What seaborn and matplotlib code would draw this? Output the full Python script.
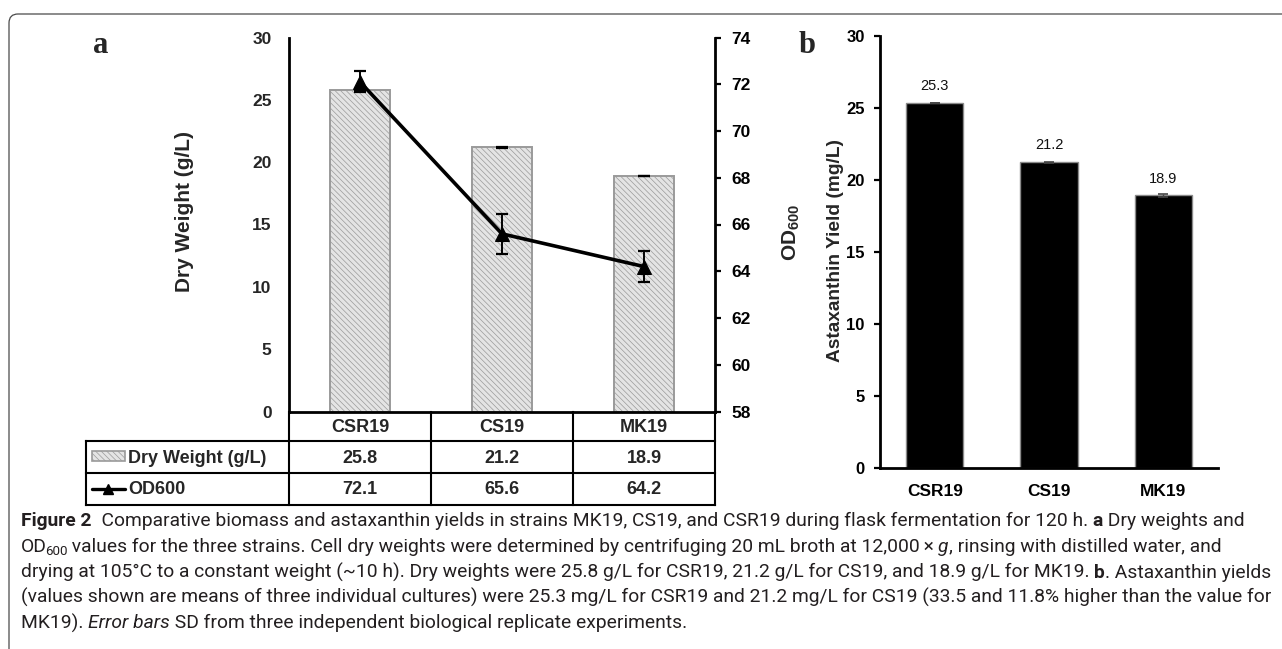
import numpy as np
import pandas as pd
import matplotlib
matplotlib.use("Agg")
import matplotlib.pyplot as plt
import seaborn as sns
from matplotlib import font_manager
from matplotlib.patches import Rectangle, FancyBboxPatch
from matplotlib.lines import Line2D
from matplotlib.transforms import IdentityTransform

# ---------------- data ----------------
strains = ["CSR19", "CS19", "MK19"]
dry_weight = [25.8, 21.2, 18.9]
dry_weight_sd = [0.05, 0.03, 0.03]
od600 = [72.1, 65.6, 64.2]
od600_sd = [0.45, 0.85, 0.65]
astaxanthin = [25.3, 21.2, 18.9]
astaxanthin_sd = [0.02, 0.03, 0.1]
dry_ticks = [0, 5, 10, 15, 20, 25, 30]
od_ticks = [58, 60, 62, 64, 66, 68, 70, 72, 74]
table_rows = ["Dry Weight (g/L)", "OD600"]

# (text, weight, style, size scale, vertical offset px, kern px before)
caption_lines = [
    [("Figure 2", "bold", "normal", 1.0, 0, 0), ("  Comparative biomass and astaxanthin yields in strains MK19, CS19, and CSR19 during flask fermentation for 120 h. ", "normal", "normal", 1.0, 0, 0),
     ("a", "bold", "normal", 1.0, 0, 0), (" Dry weights and", "normal", "normal", 1.0, 0, 0)],
    [("OD", "normal", "normal", 1.0, 0, 0), ("600", "normal", "normal", 0.7, 3, -2),
     (" values for the three strains. Cell dry weights were determined by centrifuging 20 mL broth at 12,000\u2009\u00d7\u2009", "normal", "normal", 1.0, 0, 0),
     ("g", "normal", "italic", 1.0, 0, 0), (", rinsing with distilled water, and", "normal", "normal", 1.0, 0, 0)],
    [("drying at 105\u00b0C to a constant weight (~10 h). Dry weights were 25.8 g/L for CSR19, 21.2 g/L for CS19, and 18.9 g/L for MK19. ", "normal", "normal", 1.0, 0, 0),
     ("b", "bold", "normal", 1.0, 0, 0), (". Astaxanthin yields", "normal", "normal", 1.0, 0, 0)],
    [("(values shown are means of three individual cultures) were 25.3 mg/L for CSR19 and 21.2 mg/L for CS19 (33.5 and 11.8% higher than the value for", "normal", "normal", 1.0, 0, 0)],
    [("MK19). ", "normal", "normal", 1.0, 0, 0), ("Error bars", "normal", "italic", 1.0, 0, 0),
     (" SD from three independent biological replicate experiments.", "normal", "normal", 1.0, 0, 0)],
]

# ---------------- style ----------------
sns.set_theme(style="white")
plt.rcParams["font.family"] = ["Liberation Sans", "DejaVu Sans"]
plt.rcParams["hatch.linewidth"] = 0.5
plt.rcParams["mathtext.fontset"] = "custom"
plt.rcParams["mathtext.bf"] = "Liberation Sans:bold"
plt.rcParams["mathtext.rm"] = "Liberation Sans"


def has_font(name):
    try:
        font_manager.findfont(name, fallback_to_default=False)
        return True
    except Exception:
        return False


cap_family = "Liberation Sans Narrow" if has_font("Liberation Sans Narrow") else "Roboto"
cap_color = "#231f20"

W, H = 1282, 649
DPI = 100
fig = plt.figure(figsize=(W / DPI, H / DPI), dpi=DPI)
fig.patch.set_facecolor("white")


def fx(px):
    return px / W


def fy(py):
    return 1 - py / H


TICK_FS = 12.5
BAR_GRAY_FACE = "#e4e4e4"
BAR_GRAY_EDGE = "#9a9a9a"
HATCH = "\\\\\\\\\\\\"

# ---------------- panel a ----------------
a_left, a_right, a_top, a_bot = 289, 715, 37.5, 411.5
ax_a = fig.add_axes([fx(a_left), fy(a_bot), (a_right - a_left) / W, (a_bot - a_top) / H])
df_a = pd.DataFrame({"strain": strains, "dry": dry_weight})
sns.barplot(data=df_a, x="strain", y="dry", ax=ax_a, width=0.42, color=BAR_GRAY_FACE,
            saturation=1, edgecolor=BAR_GRAY_EDGE, linewidth=1.4, hatch=HATCH, errorbar=None)
xpos = np.arange(len(strains))
ax_a.errorbar(xpos, dry_weight, yerr=dry_weight_sd, fmt="none", ecolor="black",
              elinewidth=1.2, capsize=4, capthick=1.6, zorder=3)
ax_a.set_ylim(dry_ticks[0], dry_ticks[-1])
ax_a.set_yticks(dry_ticks)
ax_a.set_xlim(-0.5, len(strains) - 0.5)
ax_a.set_xlabel("")
ax_a.set_ylabel("")
ax_a.set_xticks([])
ax_a.tick_params(axis="y", length=0, pad=12.5, labelsize=TICK_FS)
for lab in ax_a.get_yticklabels():
    lab.set_fontweight("bold")
for s in ["top", "right"]:
    ax_a.spines[s].set_visible(False)
for s in ["left", "bottom"]:
    ax_a.spines[s].set_color("black")
    ax_a.spines[s].set_linewidth(2.0)
ax_a.patch.set_alpha(0)

ax_t = ax_a.twinx()
sns.lineplot(x=xpos, y=od600, ax=ax_t, color="black", linewidth=2.6, marker="^",
             markersize=9.5, markeredgecolor="black", zorder=4)
ax_t.errorbar(xpos, od600, yerr=od600_sd, fmt="none", ecolor="black", elinewidth=1.4,
              capsize=4.5, capthick=1.6, zorder=5)
ax_t.set_ylim(od_ticks[0], od_ticks[-1])
ax_t.set_yticks(od_ticks)
ax_t.set_xlim(-0.5, len(strains) - 0.5)
ax_t.tick_params(axis="y", right=True, direction="out", length=4, width=1.6, pad=8,
                 labelsize=TICK_FS, colors="black")
for lab in ax_t.get_yticklabels():
    lab.set_fontweight("bold")
for s in ["top", "left", "bottom"]:
    ax_t.spines[s].set_visible(False)
ax_t.spines["right"].set_color("black")
ax_t.spines["right"].set_linewidth(2.0)
ax_t.set_ylabel("")

fig.text(fx(184), fy(211.5), "Dry Weight (g/L)", rotation=90, ha="center", va="center",
         fontsize=15, fontweight="bold")
fig.text(fx(791), fy(232), r"$\mathbf{OD}_{\mathbf{600}}$", rotation=90, ha="center", va="center",
         fontsize=15)
fig.text(fx(101), fy(53), "a", family=["Liberation Serif", "DejaVu Serif"], fontweight="bold",
         fontsize=22, ha="center", va="baseline")

# ---------------- data table under panel a ----------------
fig.canvas.draw()
renderer = fig.canvas.get_renderer()
to_fig = ax_a.transData + fig.transFigure.inverted()
col_centers = [to_fig.transform((x, 0))[0] for x in xpos]
col_edges = [to_fig.transform((x, 0))[0] for x in np.arange(len(strains) + 1) - 0.5]
rows_y = [a_bot, 441, 473, 504.5]
tab_left = 86
LW_T = 1.5


def fline(x0, y0, x1, y1):
    fig.add_artist(Line2D([x0, x1], [y0, y1], transform=fig.transFigure, color="black",
                          linewidth=LW_T, solid_capstyle="projecting"))


for yy in rows_y[1:]:
    fline(fx(tab_left), fy(yy), col_edges[-1], fy(yy))
fline(fx(tab_left), fy(rows_y[1]), fx(tab_left), fy(rows_y[-1]))
for xe in col_edges:
    fline(xe, fy(rows_y[0]), xe, fy(rows_y[-1]))

TAB_FS = 13
row_text_y = [427, 458.5, 490]
for cx, name in zip(col_centers, strains):
    fig.text(cx, fy(row_text_y[0]), name, ha="center", va="center", fontsize=TAB_FS, fontweight="bold")
for cx, v in zip(col_centers, dry_weight):
    fig.text(cx, fy(row_text_y[1]), f"{v}", ha="center", va="center", fontsize=TAB_FS, fontweight="bold")
for cx, v in zip(col_centers, od600):
    fig.text(cx, fy(row_text_y[2]), f"{v}", ha="center", va="center", fontsize=TAB_FS, fontweight="bold")

# legend icons
fig.add_artist(Rectangle((fx(92), fy(461)), (125 - 92) / W, 10 / H, transform=fig.transFigure,
                         facecolor=BAR_GRAY_FACE, edgecolor=BAR_GRAY_EDGE, linewidth=1.2, hatch=HATCH))
fig.add_artist(Line2D([fx(92), fx(125)], [fy(489), fy(489)], transform=fig.transFigure,
                      color="black", linewidth=2.4))
fig.add_artist(Line2D([fx(108.5)], [fy(489)], transform=fig.transFigure, color="black",
                      marker="^", markersize=7, linestyle="none"))
fig.text(fx(128), fy(row_text_y[1]), table_rows[0], ha="left", va="center", fontsize=TAB_FS, fontweight="bold")
fig.text(fx(128), fy(row_text_y[2]), table_rows[1], ha="left", va="center", fontsize=TAB_FS, fontweight="bold")

# ---------------- panel b ----------------
b_left, b_right, b_top, b_bot = 880, 1218, 35.5, 467.5
ax_b = fig.add_axes([fx(b_left), fy(b_bot), (b_right - b_left) / W, (b_bot - b_top) / H])
df_b = pd.DataFrame({"strain": strains, "asta": astaxanthin})
sns.barplot(data=df_b, x="strain", y="asta", ax=ax_b, width=0.5, color="black", saturation=1,
            edgecolor="#8a8a8a", linewidth=1.0, errorbar=None)
ax_b.bar_label(ax_b.containers[0], labels=[f"{v}" for v in astaxanthin], padding=7,
               fontsize=10.5, color="#111111")
ax_b.errorbar(xpos, astaxanthin, yerr=astaxanthin_sd, fmt="none", ecolor="#444444",
              elinewidth=1.0, capsize=3.5, capthick=1.2, zorder=3)
ax_b.set_ylim(dry_ticks[0], dry_ticks[-1])
ax_b.set_yticks(dry_ticks)
ax_b.set_xlim(-0.48, len(strains) - 0.52)
ax_b.set_xlabel("")
ax_b.set_ylabel("")
ax_b.tick_params(axis="y", left=True, direction="out", length=4, width=1.6, pad=7,
                 labelsize=12, colors="black")
ax_b.tick_params(axis="x", length=0, pad=12, labelsize=12.5, colors="black")
for lab in ax_b.get_yticklabels() + ax_b.get_xticklabels():
    lab.set_fontweight("bold")
for s in ["top", "right"]:
    ax_b.spines[s].set_visible(False)
for s in ["left", "bottom"]:
    ax_b.spines[s].set_color("black")
    ax_b.spines[s].set_linewidth(2.0)
fig.text(fx(835), fy(250), "Astaxanthin Yield (mg/L)", rotation=90, ha="center", va="center",
         fontsize=13.8, fontweight="bold")
fig.text(fx(807), fy(53), "b", family=["Liberation Serif", "DejaVu Serif"], fontweight="bold",
         fontsize=22, ha="center", va="baseline")

# ---------------- frame ----------------
fig.add_artist(FancyBboxPatch((9, -30), 1400, (H - 14) + 30,
                              boxstyle="round,pad=0,rounding_size=9",
                              transform=IdentityTransform(), facecolor="none",
                              edgecolor="#4a4a4a", linewidth=0.9))

# ---------------- caption ----------------


def seg_width(text, **kw):
    t1 = fig.text(0, 0, "|" + text + "|", **kw)
    t2 = fig.text(0, 0, "||", **kw)
    w = t1.get_window_extent(renderer).width - t2.get_window_extent(renderer).width
    t1.remove()
    t2.remove()
    return w


def seg_kw(weight, style, size):
    return dict(family=[cap_family, "DejaVu Sans"], fontsize=size, fontweight=weight,
                fontstyle=style, color=cap_color)


base = 10.0
w1 = sum(seg_width(t, **seg_kw(wt, st, base * sc)) + k for t, wt, st, sc, dy, k in caption_lines[0])
cap_size = base * (1243 - 21) / w1

baselines = [526.5, 552, 577.5, 603, 628.5]
for yb, segs in zip(baselines, caption_lines):
    x = 21.0
    for text, wt, st, sc, dy, k in segs:
        x += k
        kw = seg_kw(wt, st, cap_size * sc)
        fig.text(fx(x), fy(yb + dy), text, ha="left", va="baseline", **kw)
        x += seg_width(text, **kw)

fig.savefig("out.png", dpi=DPI, facecolor="white")
